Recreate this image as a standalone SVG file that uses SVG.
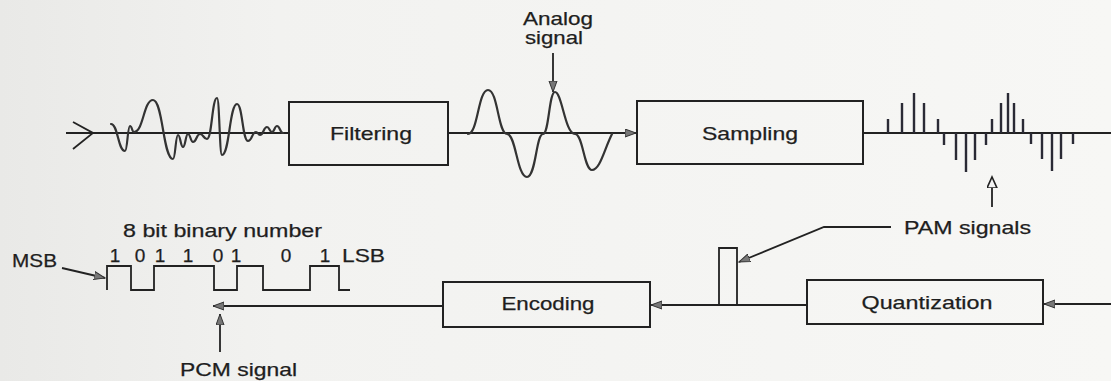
<svg xmlns="http://www.w3.org/2000/svg" width="1111" height="381" viewBox="0 0 1111 381">
<style>
  .ln{stroke:#222;stroke-width:1.8;fill:none}
  .box{stroke:#222;stroke-width:2;fill:none}
  .wave{stroke:#333;stroke-width:2.2;fill:none;stroke-linejoin:round;stroke-linecap:round}
  .smp{stroke:#2a2a35;stroke-width:2.4}
  .t{font-family:"Liberation Sans",Arial,sans-serif;font-size:19px;fill:#1e1e1e;stroke:#1e1e1e;stroke-width:0.25}
  .c{text-anchor:middle}
</style>
<defs>
  <linearGradient id="bg" x1="0" y1="0" x2="1" y2="0">
    <stop offset="0" stop-color="#e9e9e7"/>
    <stop offset="0.25" stop-color="#f2f2f0"/>
    <stop offset="1" stop-color="#f7f7f5"/>
  </linearGradient>
  <marker id="ah" markerUnits="userSpaceOnUse" markerWidth="14" markerHeight="10" refX="11" refY="4.5" orient="auto">
    <path d="M0,0.5 L11,4.5 L0,8.5 z" fill="#777" stroke="#333" stroke-width="1"/>
  </marker>
  <marker id="ao" markerUnits="userSpaceOnUse" markerWidth="14" markerHeight="12" refX="11" refY="5.5" orient="auto">
    <path d="M0,0.5 L11,5.5 L0,10.5 z" fill="#f4f4f4" stroke="#222" stroke-width="1.6"/>
  </marker>
</defs>
<rect width="1111" height="381" fill="url(#bg)"/>

<g id="connectors">
  <line class="ln" x1="66" y1="133" x2="289" y2="133"/>
  <polyline class="ln" points="73,122 93,133 73,149"/>
  <line class="ln" x1="448" y1="133" x2="636" y2="133" marker-end="url(#ah)"/>
  <line class="ln" x1="863" y1="133" x2="1111" y2="133"/>
  <line class="ln" x1="553" y1="53" x2="553" y2="92" marker-end="url(#ah)"/>
  <line class="ln" x1="992" y1="207" x2="992" y2="177" marker-end="url(#ao)"/>
  <line class="ln" x1="1111" y1="304" x2="1044" y2="304" marker-end="url(#ah)"/>
  <line class="ln" x1="807" y1="305" x2="651" y2="305" marker-end="url(#ah)"/>
  <polyline class="ln" points="719,305 719,248 737,248 737,305"/>
  <polyline class="ln" points="891,227 824,227 739,262" marker-end="url(#ah)"/>
  <line class="ln" x1="443" y1="306" x2="213" y2="306" marker-end="url(#ah)"/>
  <line class="ln" x1="220" y1="352" x2="220" y2="314" marker-end="url(#ah)"/>
  <line class="ln" x1="62" y1="268" x2="105" y2="278" marker-end="url(#ah)"/>
</g>

<g id="noisy-input">
  <path class="wave" d="M111,124 C118,124 118,151 125,151 C127.5,151 127.5,126 130,126 C132,126 132,132 134,132 C143.5,132 143.5,100 153,100 C163,100 163,159 173,159 C175.5,159 175.5,135 178,135 C180.5,135 180.5,147 183,147 C185.5,147 185.5,134 188,134 C190.5,134 190.5,142 193,142 C196.5,142 196.5,134 200,134 C203.5,134 203.5,139 207,139 C212,139 212,98 217,98 C219.5,98 219.5,155 222,155 C229.5,155 229.5,104 237,104 C242.5,104 242.5,141 248,141 C252,141 252,132 256,132 C258,132 258,135 260,135 C263.5,135 263.5,127 267,127 C269.5,127 269.5,132 272,132 C274.5,132 274.5,126 277,126 C280,126 280,133 283,133"/>
</g>

<g id="filtering">
  <rect class="box" x="289" y="102" width="159" height="63"/>
  <text class="t c" x="371" y="140" textLength="82" lengthAdjust="spacingAndGlyphs">Filtering</text>
</g>

<g id="analog-signal">
  <path class="wave" d="M468,134 C478,134 478,90 488,90 C498,90 498,134 507,134 C516,134 517,177 527,177 C536,177 536,134 543,134 C549,134 549,92 555,92 C562,92 565,134 575,134 C583,134 584,170 592,170 C600,170 604,150 612,134"/>
  <text class="t c" x="558" y="25" font-size="17" textLength="70" lengthAdjust="spacingAndGlyphs">Analog</text>
  <text class="t c" x="554" y="44" font-size="17" textLength="58" lengthAdjust="spacingAndGlyphs">signal</text>
</g>

<g id="sampling">
  <rect class="box" x="637" y="101" width="226" height="63"/>
  <text class="t c" x="750" y="140" textLength="96" lengthAdjust="spacingAndGlyphs">Sampling</text>
</g>

<g id="pam-samples">
  <line class="smp" x1="888" y1="133" x2="888" y2="119"/>
  <line class="smp" x1="902" y1="133" x2="902" y2="103"/>
  <line class="smp" x1="914" y1="133" x2="914" y2="93"/>
  <line class="smp" x1="924" y1="133" x2="924" y2="103"/>
  <line class="smp" x1="938" y1="133" x2="938" y2="119"/>
  <line class="smp" x1="944" y1="133" x2="944" y2="145"/>
  <line class="smp" x1="956" y1="133" x2="956" y2="160"/>
  <line class="smp" x1="966" y1="133" x2="966" y2="172"/>
  <line class="smp" x1="975" y1="133" x2="975" y2="160"/>
  <line class="smp" x1="986" y1="133" x2="986" y2="145"/>
  <line class="smp" x1="992" y1="133" x2="992" y2="119"/>
  <line class="smp" x1="1001" y1="133" x2="1001" y2="103"/>
  <line class="smp" x1="1008" y1="133" x2="1008" y2="93"/>
  <line class="smp" x1="1014" y1="133" x2="1014" y2="103"/>
  <line class="smp" x1="1023" y1="133" x2="1023" y2="119"/>
  <line class="smp" x1="1031" y1="133" x2="1031" y2="144"/>
  <line class="smp" x1="1042" y1="133" x2="1042" y2="159"/>
  <line class="smp" x1="1052" y1="133" x2="1052" y2="171"/>
  <line class="smp" x1="1061" y1="133" x2="1061" y2="159"/>
  <line class="smp" x1="1073" y1="133" x2="1073" y2="144"/>
</g>

<g id="pam-label">
  <text class="t" x="904" y="234" textLength="127" lengthAdjust="spacingAndGlyphs">PAM signals</text>
</g>

<g id="quantization">
  <rect class="box" x="807" y="280" width="236" height="44"/>
  <text class="t c" x="927" y="309" textLength="131" lengthAdjust="spacingAndGlyphs">Quantization</text>
</g>

<g id="encoding">
  <rect class="box" x="443" y="282" width="207" height="45"/>
  <text class="t c" x="548" y="310" textLength="93" lengthAdjust="spacingAndGlyphs">Encoding</text>
</g>

<g id="pcm-output">
  <path class="ln" d="M107,290 V266 H131 V290 H154 V266 H214 V290 H237 V266 H263 V290 H310 V266 H339 V290 H350"/>
  <text class="t" x="123" y="237" textLength="199" lengthAdjust="spacingAndGlyphs">8 bit binary number</text>
  <text class="t" x="12" y="267" textLength="45" lengthAdjust="spacingAndGlyphs">MSB</text>
  <text class="t c" x="115" y="262">1</text>
  <text class="t c" x="140" y="262">0</text>
  <text class="t c" x="160" y="262">1</text>
  <text class="t c" x="188" y="262">1</text>
  <text class="t c" x="218" y="262">0</text>
  <text class="t c" x="236" y="262">1</text>
  <text class="t c" x="286" y="262">0</text>
  <text class="t c" x="325" y="262">1</text>
  <text class="t" x="342" y="262" textLength="43" lengthAdjust="spacingAndGlyphs">LSB</text>
  <text class="t" x="180" y="376" textLength="117" lengthAdjust="spacingAndGlyphs">PCM signal</text>
</g>
</svg>
